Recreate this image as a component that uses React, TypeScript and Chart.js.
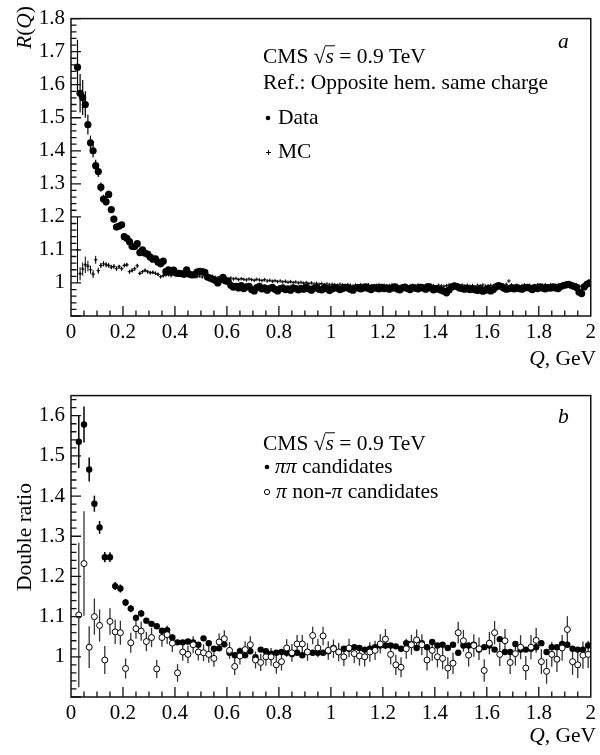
import { useEffect, useRef } from "react";
import { Chart, registerables } from "chart.js";

Chart.register(...registerables);

const FONT = '"Liberation Serif", "Times New Roman", serif';

// panel a: 0.01 GeV bins, first bin starts at Q = 0.02
const TOP_BIN_START = 0.02;
const TOP_BIN_WIDTH = 0.01;

const dataR = [
  1.653, 1.574, 1.561, 1.540, 1.479, 1.424, 1.400, 1.355, 1.337, 1.290,
  1.254, 1.246, 1.268, 1.222, 1.193, 1.169, 1.172, 1.176, 1.140, 1.135,
  1.125, 1.111, 1.110, 1.119, 1.092, 1.100, 1.090, 1.087, 1.078, 1.072,
  1.073, 1.063, 1.058, 1.066, 1.034, 1.040, 1.035, 1.039, 1.030, 1.029,
  1.028, 1.026, 1.040, 1.027, 1.024, 1.025, 1.033, 1.035, 1.034, 1.032,
  1.018, 1.015, 1.011, 1.008, 1.000, 1.010, 1.017, 1.006, 1.004, 0.993,
  0.987, 0.990, 0.985, 0.992, 0.983, 0.988, 0.990, 0.980, 0.976, 0.986,
  0.990, 0.982, 0.985, 0.978, 0.984, 0.987, 0.981, 0.976, 0.983, 0.985,
  0.980, 0.982, 0.978, 0.985, 0.983, 0.979, 0.984, 0.981, 0.987, 0.982,
  0.978, 0.984, 0.986, 0.981, 0.979, 0.985, 0.983, 0.977, 0.982, 0.986,
  0.984, 0.980, 0.983, 0.987, 0.985, 0.981, 0.978, 0.984, 0.986, 0.982,
  0.985, 0.988, 0.983, 0.980, 0.986, 0.984, 0.982, 0.987, 0.983, 0.985,
  0.981, 0.984, 0.988, 0.982, 0.979, 0.985, 0.987, 0.983, 0.980, 0.986,
  0.984, 0.982, 0.987, 0.985, 0.981, 0.989, 0.984, 0.979, 0.983, 0.981,
  0.978, 0.975, 0.970, 0.979, 0.988, 0.991, 0.989, 0.985, 0.983, 0.981,
  0.984, 0.980, 0.983, 0.979, 0.977, 0.982, 0.975, 0.978, 0.981, 0.976,
  0.980, 0.988, 0.992, 0.990, 0.984, 0.981, 0.983, 0.985, 0.982, 0.986,
  0.983, 0.981, 0.985, 0.987, 0.984, 0.980, 0.986, 0.983, 0.988, 0.984,
  0.982, 0.986, 0.984, 0.988, 0.985, 0.983, 0.989, 0.992, 0.994, 0.996,
  0.993, 0.990, 0.986, 0.972, 0.968, 0.988, 0.996, 1.000,
];
// errors only where they stick out of the marker
const dataErr = [
  0.083, 0.058, 0.053, 0.040, 0.030, 0.022, 0.020, 0.018, 0.016, 0.014,
  0.013, 0.012, 0.011, 0.010, 0.010, 0.009, 0.009, 0.008, 0.008, 0.008,
];

const mcR = [
  1.100, 1.028, 1.042, 1.055, 1.051, 1.040, 1.027, 1.070, 1.037, 1.053,
  1.058, 1.055, 1.053, 1.048, 1.050, 1.043, 1.049, 1.043, 1.053, 1.055,
  1.034, 1.038, 1.043, 1.052, 1.029, 1.034, 1.038, 1.034, 1.031, 1.032,
  1.029, 1.026, 1.019, 1.022, 1.024, 1.025, 1.022, 1.027, 1.025, 1.023,
  1.024, 1.021, 1.026, 1.022, 1.020, 1.023, 1.019, 1.021, 1.018, 1.022,
  1.019, 1.016, 1.020, 1.017, 1.015, 1.018, 1.014, 1.016, 1.013, 1.015,
  1.012, 1.014, 1.010, 1.013, 1.011, 1.009, 1.012, 1.010, 1.008, 1.011,
  1.009, 1.007, 1.010, 1.006, 1.008, 1.005, 1.007, 1.004, 1.006, 1.003,
  1.005, 1.002, 1.004, 1.001, 1.003, 1.000, 1.002, 0.999, 1.001, 0.998,
  1.000, 0.997, 0.999, 0.996, 0.998, 0.995, 0.997, 0.994, 0.996, 0.995,
  0.993, 0.996, 0.994, 0.992, 0.995, 0.993, 0.991, 0.994, 0.992, 0.995,
  0.993, 0.991, 0.994, 0.992, 0.990, 0.993, 0.995, 0.991, 0.993, 0.990,
  0.992, 0.994, 0.991, 0.993, 0.989, 0.992, 0.994, 0.990, 0.992, 0.993,
  0.991, 0.994, 0.992, 0.990, 0.993, 0.991, 0.994, 0.992, 0.989, 0.993,
  0.991, 0.990, 0.992, 0.994, 0.991, 0.993, 0.990, 0.992, 0.994, 0.991,
  0.993, 0.990, 0.992, 0.989, 0.993, 0.991, 0.994, 0.990, 0.992, 0.993,
  0.991, 0.994, 0.992, 0.990, 0.993, 0.996, 1.006, 0.994, 0.991, 0.993,
  0.990, 0.992, 0.994, 0.991, 0.993, 0.990, 0.992, 0.994, 0.991, 0.993,
  0.995, 0.992, 0.994, 0.991, 0.993, 0.995, 0.992, 0.994, 0.996, 0.993,
  0.995, 0.992, 0.994, 0.991, 0.989, 0.993, 0.996, 0.998,
];
const mcErr = [
  0.100, 0.020, 0.020, 0.025, 0.016, 0.012, 0.012, 0.012, 0.009, 0.008,
  0.008, 0.008, 0.007, 0.007, 0.007, 0.007, 0.006, 0.006, 0.006, 0.006,
  0.006, 0.006, 0.006, 0.006, 0.005, 0.005, 0.005, 0.005, 0.005, 0.005,
  0.005, 0.005, 0.005, 0.005,
];

// panel b: 0.02 GeV bins, first bin starts at Q = 0.02
const BOT_BIN_START = 0.02;
const BOT_BIN_WIDTH = 0.02;

const pipiRatio = [
  1.535, 1.578, 1.466, 1.381, 1.322, 1.248, 1.248, 1.176, 1.170, 1.135,
  1.120, 1.097, 1.108, 1.090, 1.082, 1.076, 1.065, 1.066, 1.048, 1.036,
  1.036, 1.038, 1.036, 1.030, 1.046, 1.034, 1.020, 1.021, 1.031, 1.010,
  1.004, 1.014, 1.004, 1.014, 0.999, 1.018, 1.014, 1.008, 1.010, 1.012,
  1.010, 1.007, 1.010, 1.004, 1.012, 1.010, 1.010, 1.010, 1.014, 1.022,
  1.012, 1.020, 1.020, 1.024, 1.022, 1.018, 1.020, 1.024, 1.028, 1.028,
  1.028, 1.026, 1.020, 1.034, 1.032, 1.022, 1.034, 1.024, 1.037, 1.028,
  1.030, 1.022, 1.030, 1.010, 1.028, 1.028, 1.030, 1.018, 1.024, 1.028,
  1.018, 1.044, 1.012, 1.012, 1.032, 1.018, 1.018, 1.020, 1.024, 1.034,
  1.012, 1.024, 1.024, 1.032, 1.030, 1.020, 1.018, 1.018, 1.028,
];
const pipiErr = [
  0.065, 0.045, 0.030, 0.020, 0.016, 0.013, 0.012, 0.010, 0.010, 0.009,
  0.009, 0.008, 0.008,
];

const nonPiRatio = [
  1.104, 1.232, 1.024, 1.100, 1.078, 0.992, 1.088, 1.062, 1.060, 0.971,
  1.035, 1.070, 1.064, 1.038, 1.048, 0.970, 1.048, 1.055, 1.034, 0.960,
  1.012, 1.006, 1.030, 1.012, 1.010, 1.006, 0.996, 1.037, 1.045, 1.016,
  0.976, 1.002, 1.018, 1.030, 0.992, 0.986, 1.000, 1.000, 0.980, 0.988,
  1.022, 1.010, 1.032, 1.032, 1.012, 1.053, 1.022, 1.052, 1.016, 1.020,
  1.012, 1.000, 1.022, 1.008, 1.002, 1.000, 1.012, 1.016, 1.032, 1.044,
  1.006, 0.980, 0.974, 1.020, 1.030, 1.042, 1.030, 0.992, 1.016, 1.000,
  0.996, 0.972, 0.984, 1.060, 1.040, 1.004, 1.028, 1.020, 0.966, 1.034,
  1.060, 1.006, 1.040, 0.986, 1.008, 1.024, 0.972, 1.024, 1.041, 0.988,
  0.964, 1.006, 0.994, 1.022, 1.068, 0.988, 0.980, 1.004, 1.006,
];
const nonPiErr = [
  0.180, 0.130, 0.052, 0.045, 0.040, 0.035, 0.033, 0.030, 0.030, 0.025,
  0.025, 0.025, 0.024, 0.024, 0.024, 0.023, 0.023, 0.023, 0.022, 0.022,
  0.022, 0.022, 0.021, 0.021, 0.021, 0.021, 0.021, 0.021, 0.021, 0.021,
  0.021, 0.021, 0.021, 0.021, 0.021, 0.021, 0.022, 0.022, 0.022, 0.022,
  0.022, 0.022, 0.022, 0.022, 0.022, 0.022, 0.023, 0.023, 0.023, 0.023,
  0.023, 0.023, 0.023, 0.024, 0.024, 0.024, 0.024, 0.024, 0.024, 0.025,
  0.025, 0.025, 0.025, 0.025, 0.025, 0.026, 0.026, 0.026, 0.026, 0.026,
  0.027, 0.027, 0.027, 0.027, 0.027, 0.028, 0.028, 0.028, 0.028, 0.028,
  0.029, 0.029, 0.029, 0.029, 0.030, 0.030, 0.030, 0.030, 0.031, 0.031,
  0.031, 0.031, 0.032, 0.032, 0.033, 0.033, 0.033, 0.034, 0.034,
];

const toPoints = (values: number[], start: number, width: number) =>
  values.map((v, i) => ({ x: start + width * (i + 0.5), y: v }));

type Run = { text: string; italic?: boolean; over?: boolean };

const TEXT_SIZE = 21.5;

function drawRuns(ctx: CanvasRenderingContext2D, x: number, y: number, runs: Run[], size: number) {
  let cx = x;
  for (const r of runs) {
    ctx.font = `${r.italic ? "italic " : ""}${size}px ${FONT}`;
    ctx.fillText(r.text, cx, y);
    const w = ctx.measureText(r.text).width;
    if (r.over) {
      ctx.beginPath();
      ctx.lineWidth = 1;
      ctx.moveTo(cx - 0.5, y - size * 0.8);
      ctx.lineTo(cx + w + 1, y - size * 0.8);
      ctx.stroke();
    }
    cx += w;
  }
  return cx - x;
}

function measureRuns(ctx: CanvasRenderingContext2D, runs: Run[], size: number) {
  let w = 0;
  for (const r of runs) {
    ctx.font = `${r.italic ? "italic " : ""}${size}px ${FONT}`;
    w += ctx.measureText(r.text).width;
  }
  return w;
}

const cmsRuns: Run[] = [
  { text: "CMS " },
  { text: "\u221A" },
  { text: "s", italic: true, over: true },
  { text: " = 0.9 TeV" },
];
const qRuns: Run[] = [{ text: "Q", italic: true }, { text: ", GeV" }];

const errorBarPlugin = {
  id: "errorBars",
  beforeDatasetsDraw(chart: any) {
    const { ctx, chartArea } = chart;
    const xs = chart.scales.x;
    const ys = chart.scales.y;
    ctx.save();
    chart.data.datasets.forEach((ds: any) => {
      const errs: number[] | undefined = ds.errorBars;
      if (!errs) return;
      ctx.strokeStyle = ds.errorColor ?? "#000";
      ctx.lineWidth = ds.errorWidth ?? 1.2;
      ds.data.forEach((p: { x: number; y: number }, i: number) => {
        const e = errs[i];
        if (!e) return;
        const px = xs.getPixelForValue(p.x);
        const lo = Math.min(ys.getPixelForValue(p.y - e), chartArea.bottom);
        const hi = Math.max(ys.getPixelForValue(p.y + e), chartArea.top);
        ctx.beginPath();
        ctx.moveTo(px, lo);
        ctx.lineTo(px, hi);
        ctx.stroke();
      });
    });
    ctx.restore();
  },
};

// ROOT-like frame with inward ticks
const framePlugin = {
  id: "rootFrame",
  afterDatasetsDraw(chart: any) {
    const { ctx, chartArea } = chart;
    const xs = chart.scales.x;
    const ys = chart.scales.y;
    ctx.save();
    ctx.strokeStyle = "#111";
    ctx.lineWidth = 1.5;
    ctx.strokeRect(chartArea.left, chartArea.top, chartArea.right - chartArea.left, chartArea.bottom - chartArea.top);
    ctx.lineWidth = 1.3;
    ctx.beginPath();
    for (let k = 1; k < 40; k++) {
      const px = xs.getPixelForValue(k * 0.05);
      const len = k % 4 === 0 ? 10 : 5.5;
      ctx.moveTo(px, chartArea.bottom);
      ctx.lineTo(px, chartArea.bottom - len);
    }
    const kMin = Math.ceil(ys.min / 0.02 - 1e-6);
    const kMax = Math.floor(ys.max / 0.02 + 1e-6);
    for (let k = kMin; k <= kMax; k++) {
      const py = ys.getPixelForValue(k * 0.02);
      const len = k % 5 === 0 ? 10 : 5.5;
      ctx.moveTo(chartArea.left, py);
      ctx.lineTo(chartArea.left + len, py);
    }
    ctx.stroke();
    ctx.restore();
  },
};

const topTextPlugin = {
  id: "topText",
  afterDraw(chart: any) {
    const { ctx } = chart;
    ctx.save();
    ctx.fillStyle = "#000";
    ctx.strokeStyle = "#000";
    ctx.textBaseline = "alphabetic";
    ctx.textAlign = "left";
    drawRuns(ctx, 263, 63, cmsRuns, TEXT_SIZE);
    drawRuns(ctx, 263, 89, [{ text: "Ref.: Opposite hem. same charge" }], TEXT_SIZE);
    ctx.beginPath();
    ctx.arc(268, 118, 2.3, 0, Math.PI * 2);
    ctx.fill();
    drawRuns(ctx, 278, 124, [{ text: "Data" }], TEXT_SIZE);
    ctx.lineWidth = 1;
    ctx.beginPath();
    ctx.moveTo(266, 152.5);
    ctx.lineTo(271, 152.5);
    ctx.moveTo(268.5, 150);
    ctx.lineTo(268.5, 155);
    ctx.stroke();
    drawRuns(ctx, 278, 158, [{ text: "MC" }], TEXT_SIZE);
    drawRuns(ctx, 558, 48, [{ text: "a", italic: true }], TEXT_SIZE);
    const qw = measureRuns(ctx, qRuns, TEXT_SIZE);
    drawRuns(ctx, 596 - qw, 365, qRuns, TEXT_SIZE);
    // y title, right-aligned at the top of the axis
    const yRuns: Run[] = [
      { text: "R", italic: true },
      { text: "(" },
      { text: "Q", italic: true },
      { text: ")" },
    ];
    const yw = measureRuns(ctx, yRuns, TEXT_SIZE);
    ctx.translate(31, 6);
    ctx.rotate(-Math.PI / 2);
    drawRuns(ctx, -yw, 0, yRuns, TEXT_SIZE);
    ctx.restore();
  },
};

const bottomTextPlugin = {
  id: "bottomText",
  afterDraw(chart: any) {
    const { ctx } = chart;
    ctx.save();
    ctx.fillStyle = "#000";
    ctx.strokeStyle = "#000";
    ctx.textBaseline = "alphabetic";
    ctx.textAlign = "left";
    drawRuns(ctx, 558, 46, [{ text: "b", italic: true }], TEXT_SIZE);
    drawRuns(ctx, 263, 73, cmsRuns, TEXT_SIZE);
    ctx.beginPath();
    ctx.arc(267, 90, 2.3, 0, Math.PI * 2);
    ctx.fill();
    drawRuns(ctx, 275, 96, [{ text: "\u03C0\u03C0", italic: true }, { text: " candidates" }], TEXT_SIZE);
    ctx.lineWidth = 1;
    ctx.beginPath();
    ctx.arc(267, 115, 2.6, 0, Math.PI * 2);
    ctx.stroke();
    drawRuns(
      ctx,
      276,
      121,
      [
        { text: "\u03C0", italic: true },
        { text: " non-" },
        { text: "\u03C0", italic: true },
        { text: " candidates" },
      ],
      TEXT_SIZE
    );
    const qw = measureRuns(ctx, qRuns, TEXT_SIZE);
    drawRuns(ctx, 596 - qw, 365, qRuns, TEXT_SIZE);
    ctx.font = `${TEXT_SIZE}px ${FONT}`;
    ctx.translate(31, 160);
    ctx.rotate(-Math.PI / 2);
    ctx.textAlign = "center";
    ctx.fillText("Double ratio", 0, 0);
    ctx.restore();
  },
};

const tickFont = { family: FONT, size: 21 };

function axes(yMin: number, yMax: number, xAxisHeight: number) {
  return {
    x: {
      type: "linear" as const,
      min: 0,
      max: 2,
      grid: { display: false, drawTicks: false },
      border: { display: false },
      ticks: {
        stepSize: 0.2,
        padding: 4,
        color: "#000",
        font: tickFont,
        maxRotation: 0,
        autoSkip: false,
        includeBounds: false,
        callback: (v: number | string) => String(Math.round(Number(v) * 10) / 10),
      },
      afterFit: (s: any) => {
        s.height = xAxisHeight;
      },
    },
    y: {
      type: "linear" as const,
      min: yMin,
      max: yMax,
      grid: { display: false, drawTicks: false },
      border: { display: false },
      ticks: {
        stepSize: 0.1,
        padding: 6,
        color: "#000",
        font: tickFont,
        autoSkip: false,
        includeBounds: false,
        callback: (v: number | string) => {
          const n = Number(v);
          return n < 0.95 ? "" : String(Math.round(n * 10) / 10);
        },
      },
      afterFit: (s: any) => {
        s.width = 71;
      },
    },
  };
}

export default function App() {
  const topRef = useRef<HTMLCanvasElement>(null);
  const bottomRef = useRef<HTMLCanvasElement>(null);

  useEffect(() => {
    if (!topRef.current || !bottomRef.current) return;
    const top = new Chart(topRef.current, {
      type: "scatter",
      data: {
        datasets: [
          {
            label: "Data",
            data: toPoints(dataR, TOP_BIN_START, TOP_BIN_WIDTH),
            pointRadius: 3.6,
            pointStyle: "circle",
            backgroundColor: "#000",
            borderWidth: 0,
            errorBars: dataErr,
          } as any,
          {
            label: "MC",
            data: toPoints(mcR, TOP_BIN_START, TOP_BIN_WIDTH),
            pointRadius: 1.8,
            pointStyle: "cross",
            borderColor: "#000",
            borderWidth: 1,
            errorBars: mcErr,
            errorWidth: 1,
          } as any,
        ],
      },
      options: {
        animation: false,
        responsive: false,
        devicePixelRatio: 1,
        layout: { padding: { top: 6, right: 4, left: 0, bottom: 0 } },
        plugins: { legend: { display: false }, tooltip: { enabled: false } },
        scales: axes(0.9, 1.8, 61) as any,
      },
      plugins: [errorBarPlugin, framePlugin, topTextPlugin],
    });
    const bottom = new Chart(bottomRef.current, {
      type: "scatter",
      data: {
        datasets: [
          {
            label: "\u03C0 non-\u03C0 candidates",
            data: toPoints(nonPiRatio, BOT_BIN_START, BOT_BIN_WIDTH),
            pointRadius: 3,
            pointStyle: "circle",
            backgroundColor: "#fff",
            borderColor: "#000",
            borderWidth: 1,
            errorBars: nonPiErr,
            errorColor: "#333",
            errorWidth: 1.3,
          } as any,
          {
            label: "\u03C0\u03C0 candidates",
            data: toPoints(pipiRatio, BOT_BIN_START, BOT_BIN_WIDTH),
            pointRadius: 3.2,
            pointStyle: "circle",
            backgroundColor: "#000",
            borderWidth: 0,
            errorBars: pipiErr,
            errorWidth: 1.5,
          } as any,
        ],
      },
      options: {
        animation: false,
        responsive: false,
        devicePixelRatio: 1,
        layout: { padding: { top: 9, right: 4, left: 0, bottom: 0 } },
        plugins: { legend: { display: false }, tooltip: { enabled: false } },
        scales: axes(0.9, 1.65, 58) as any,
      },
      plugins: [errorBarPlugin, framePlugin, bottomTextPlugin],
    });
    return () => {
      top.destroy();
      bottom.destroy();
    };
  }, []);

  return (
    <div style={{ position: "absolute", left: 0, top: 0, width: 600, height: 755, background: "#fff" }}>
      <canvas ref={topRef} width={600} height={377} style={{ display: "block" }} />
      <canvas ref={bottomRef} width={600} height={378} style={{ display: "block" }} />
    </div>
  );
}
